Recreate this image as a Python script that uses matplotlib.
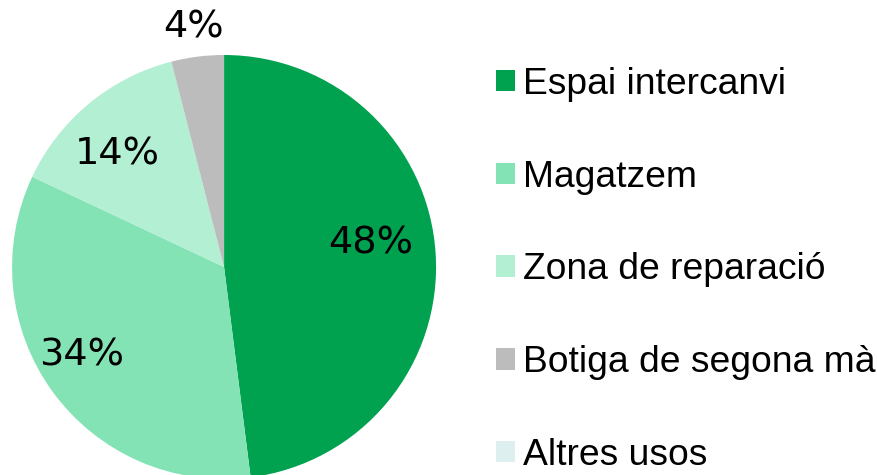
import matplotlib
matplotlib.use("Agg")
import matplotlib.pyplot as plt
import numpy as np
from matplotlib.patches import Patch

# dades
categories = ["Espai intercanvi", "Magatzem", "Zona de reparació",
              "Botiga de segona mà", "Altres usos"]
values = [48, 34, 14, 4, 0]
colors = ["#00A14F", "#84E3B5", "#B3EFD3", "#BCBCBC", "#DDEFEF"]
# posicio de les etiquetes (distancia, desviacio d'angle en graus)
label_dist = [0.70, 0.79, 0.73, 1.14]
label_shift = [5.7, -4.0, 4.0, 0.0]

fig = plt.figure(figsize=(8.78, 4.75), dpi=100)
ax = fig.add_axes([0.0137, -0.0084, 0.483, 0.8926])

wedges, _ = ax.pie(values, colors=colors, startangle=90, counterclock=False,
                   radius=1.0, wedgeprops=dict(linewidth=0))
ax.set_xlim(-1, 1)
ax.set_ylim(-1, 1)
ax.set_aspect("equal")

total = sum(values)
for w, v, d, s in zip(wedges, values, label_dist, label_shift):
    ang = np.deg2rad((w.theta1 + w.theta2) / 2 + s)
    ax.text(d * np.cos(ang), d * np.sin(ang), f"{v / total * 100:.0f}%",
            ha="center", va="center", fontsize=27.5, family="DejaVu Sans",
            clip_on=False)

handles = [Patch(facecolor=c, edgecolor="none") for c in colors]
fig.legend(handles, categories, loc="upper left", bbox_to_anchor=(0.565, 0.859),
           frameon=False, prop={"family": "Liberation Sans", "size": 26.8},
           handlelength=0.51, handleheight=0.51, handletextpad=0.21,
           labelspacing=1.55, borderpad=0, borderaxespad=0)

fig.savefig("out.png", dpi=100)
